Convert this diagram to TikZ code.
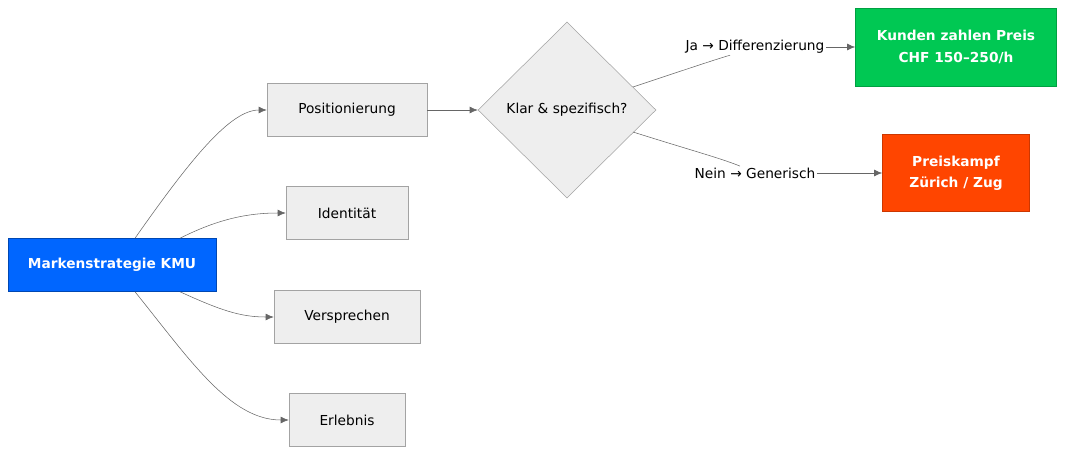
\documentclass[tikz,border=0pt]{standalone}
\usepackage{fontspec}
\setmainfont{DejaVu Sans}
\usetikzlibrary{shapes.geometric,arrows.meta,calc}
\definecolor{boxgray}{HTML}{EEEEEE}
\definecolor{linegray}{HTML}{666666}
\definecolor{mblue}{HTML}{0066FF}
\definecolor{mgreen}{HTML}{00C853}
\definecolor{mred}{HTML}{FF4500}
\tikzset{
  box/.style={draw=linegray!60, fill=boxgray, minimum height=53*0.75pt, inner sep=0pt},
  flow/.style={draw=linegray, -{Latex[length=6pt,width=5pt]}},
  lbl/.style={inner sep=1pt}
}
\begin{document}
\begin{tikzpicture}[x=0.75pt,y=-0.75pt,font=\fontsize{10.3}{12}\selectfont]
        \useasboundingbox (0,0) rectangle (1074,458);
        \node (mks) [box, fill=mblue, draw=mblue!70!black, text=white, font=\fontsize{10.3}{12}\selectfont\bfseries, minimum width=208*0.75pt] at (112,265) {Markenstrategie KMU};
        \node (pos) [box, minimum width=160*0.75pt] at (347,110) {Positionierung};
        \node (ide) [box, minimum width=122*0.75pt] at (347,213) {Identität};
        \node (ver) [box, minimum width=146*0.75pt] at (347,317) {Versprechen};
        \node (erl) [box, minimum width=116*0.75pt] at (347,420) {Erlebnis};
        \node (dec) [diamond, aspect=1, draw=linegray!60, fill=boxgray, minimum width=178*0.75pt, minimum height=176*0.75pt, inner sep=0pt] at (567,110) {Klar \& spezifisch?};
        \node (ja) [lbl] at (755,47) {Ja → Differenzierung};
        \node (nein) [lbl] at (755,173) {Nein → Generisch};
        \node (kun) [box, fill=mgreen, draw=mgreen!80!black, text=white, font=\fontsize{10.3}{12}\selectfont\bfseries, minimum width=201*0.75pt, minimum height=78*0.75pt, align=center] at (956,47) {Kunden zahlen Preis\\[4pt]CHF 150–250/h};
        \node (pre) [box, fill=mred, draw=mred!80!black, text=white, font=\fontsize{10.3}{12}\selectfont\bfseries, minimum width=147*0.75pt, minimum height=77*0.75pt, align=center] at (956,173) {Preiskampf\\[4pt]Zürich / Zug};
        \draw [flow] ($(mks.north)+(23,0)$) .. controls (190,160) and (230,110) .. (pos.west);
        \draw [flow] ($(mks.north)+(68,0)$) .. controls (220,218) and (250,213) .. (ide.west);
        \draw [flow] ($(mks.south)+(68,0)$) .. controls (220,310) and (240,317) .. (ver.west);
        \draw [flow] ($(mks.south)+(23,0)$) .. controls (190,360) and (230,420) .. (erl.west);
        \draw [flow] (pos) -- (dec);
        \draw [linegray] (633,87) .. controls (690,68) and (720,58) .. ($(ja.south)+(-25,0)$);
        \draw [flow] (ja) -- (kun.west);
        \draw [linegray] (633,132) .. controls (690,150) and (720,158) .. ($(nein.north)+(-15,0)$);
        \draw [flow] (nein) -- (pre.west);
\end{tikzpicture}
\end{document}
